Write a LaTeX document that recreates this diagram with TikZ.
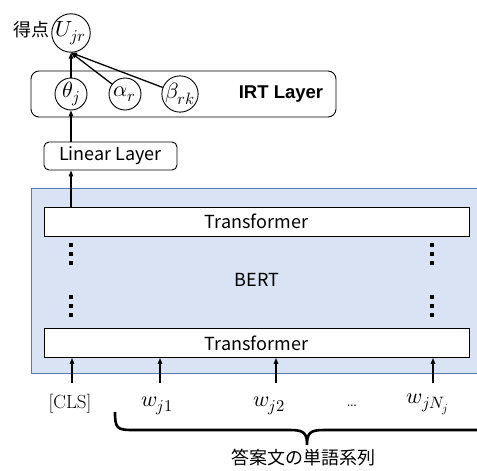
\documentclass[tikz,border=0pt]{standalone}
\usepackage{fontspec}
\usepackage{unicode-math}
\setmathfont{Latin Modern Math}
\DeclareMathSizes{22}{22}{16.5}{12}
\usetikzlibrary{arrows.meta}
\newfontfamily\jp{Noto Sans CJK JP}
\newfontfamily\irtfont{Liberation Sans}
\definecolor{bertfill}{HTML}{DAE3F3}
\definecolor{bertline}{HTML}{5A7AB5}
\begin{document}
\begin{tikzpicture}[x=1pt,y=-1pt,font=\fontsize{18}{20}\selectfont,
  circ/.style={circle,draw,line width=0.9pt,minimum size=32pt,inner sep=0pt,font=\fontsize{22}{24}\selectfont},
  arr/.style={-{Triangle[length=6pt,width=4.5pt]},line width=1.3pt},
  tbox/.style={draw,fill=white,line width=0.9pt,minimum width=425pt,minimum height=29pt,inner sep=0pt,font=\jp\fontsize{18}{20}\selectfont},
  inp/.style={anchor=base,text height=13pt,text depth=6pt,inner xsep=0pt,inner ysep=0pt,outer ysep=0pt,font=\fontsize{19}{21}\selectfont},
  winp/.style={inp,font=\fontsize{22}{24}\selectfont},
  dotsq/.style={fill=black,minimum size=3.6pt,inner sep=0pt}]
\useasboundingbox (0,0) rectangle (477,471);
\clip (0,0) rectangle (477,471);
% BERT box
\node[fill=bertfill,draw=bertline,line width=0.9pt,minimum width=459pt,minimum height=185pt,inner sep=0pt] (bert) at (260.5,280.5) {};
\node[font=\jp\fontsize{18}{20}\selectfont] (bertlbl) at (257,280) {BERT};
\node[tbox] (t1) at (256.5,221.5) {Transformer};
\node[tbox] (t2) at (256.5,343) {Transformer};
\foreach \x in {71,432}{
  \foreach \y in {245,254,263,297,306,315}{
    \node[dotsq] at (\x,\y) {};
  }
}
% IRT layer
\node[draw,rounded corners=8pt,line width=0.9pt,minimum width=305pt,minimum height=46pt,inner sep=0pt] (irt) at (183.5,94) {};
\node[font=\irtfont\bfseries\fontsize{18.5}{20}\selectfont] (irtlbl) at (281,94) {IRT Layer};
\node[circ] (theta) at (71,94) {$\theta_j$};
\node[circ] (alpha) at (125,94) {$\alpha_r$};
\node[circ] (beta) at (180,94) {$\beta_{rk}$};
\node[circ] (U) at (71,33) {$U_{jr}$};
\node[font=\jp\fontsize{18}{20}\selectfont,anchor=east,inner sep=0pt] (score) at (50,30) {得点};
% Linear layer
\node[draw,rounded corners=5pt,line width=0.9pt,minimum width=133pt,minimum height=28pt,inner sep=0pt,font=\jp\fontsize{18}{20}\selectfont] (lin) at (110.5,156) {Linear Layer};
% arrows
\draw[arr] (t1.north -| theta) -- (lin.south -| theta);
\draw[arr] (lin.north -| theta) -- (theta.south);
\draw[arr] (theta.north) -- (U.south);
\draw[arr] (alpha) -- (U.south);
\draw[arr] (beta) -- (U.south);
% inputs
\node[inp] (cls) at (70,408) {[CLS]};
\node[winp] (w1) at (157,406) {$w_{j1}$};
\node[winp] (w2) at (269,406) {$w_{j2}$};
\node[inp] (wd) at (352,406) {\dots};
\node[winp] (wN) at (428,403) {$w_{jN_j}$};
\coordinate (c0) at (72,383);
\coordinate (c1) at (160,383);
\coordinate (c2) at (276,383);
\coordinate (c3) at (433,383);
\draw[arr] (c0) -- (c0 |- t2.south);
\draw[arr] (c1) -- (c1 |- t2.south);
\draw[arr] (c2) -- (c2 |- t2.south);
\draw[arr] (c3) -- (c3 |- t2.south);
% brace
\draw[line width=2.6pt] (115,412) .. controls (115,428) and (117,430) .. (132,430) -- (290,430) .. controls (304,430) and (307,433) .. (307,445) .. controls (307,433) and (310,430) .. (324,430) -- (490,430);
\node[font=\jp\fontsize{18}{20}\selectfont] (seq) at (303,458) {答案文の単語系列};
\end{tikzpicture}
\end{document}
